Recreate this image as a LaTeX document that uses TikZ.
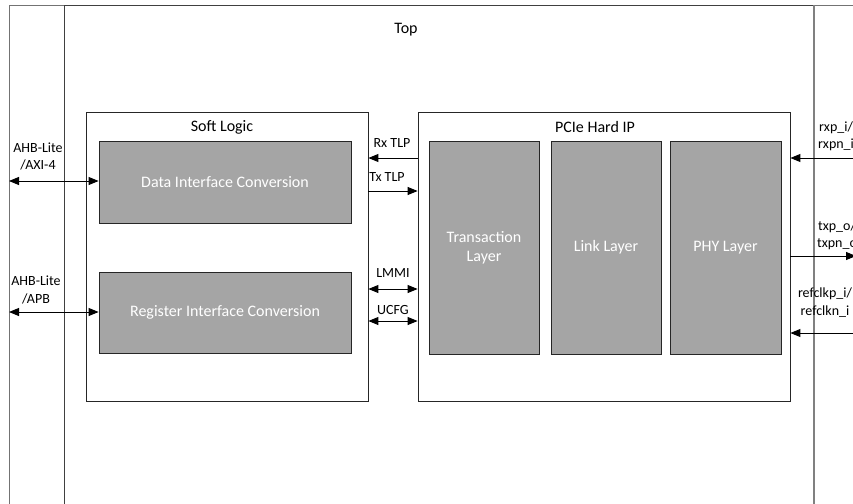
\documentclass[tikz,border=0pt]{standalone}
\usepackage{fontspec}
\setmainfont{Carlito}
\usetikzlibrary{arrows.meta}

\definecolor{blockgray}{HTML}{A5A5A5}
\definecolor{edge}{HTML}{262626}

\begin{document}
\begin{tikzpicture}[x=1pt,y=-1pt,
  bigtext/.style={font=\fontsize{16}{19}\selectfont},
  smalltext/.style={font=\fontsize{14}{17.5}\selectfont, align=center, inner sep=0pt},
  container/.style={draw=edge, line width=0.8pt, inner sep=0pt},
  block/.style={draw=edge, fill=blockgray, line width=0.8pt, inner sep=0pt,
                text=white, align=center, font=\fontsize{16}{20}\selectfont},
  link/.style={line width=0.9pt, black},
  tip/.tip={Triangle[length=10pt,width=8pt]},
  oneway/.style={link, -tip},
  twoway/.style={link, tip-tip},
]
\useasboundingbox (0,0) rectangle (853,503);
\clip (0,0) rectangle (853,503);

% outer frame and the Top module frame (both run past the page edges)
\draw[black!55, line width=0.9pt] (9,515) -- (9,5) -- (870,5);
\draw[black!75, line width=0.9pt] (64,515) -- (64,5) -- (814,5);
\draw[black!50, line width=1.4pt] (814,5) -- (814,515);
\node[bigtext] (toplbl) at (406,30) {Top};

% Soft Logic container
\node[container, minimum width=282pt, minimum height=289pt] (soft) at (227,256.5) {};
\node[bigtext] (softlbl) at (222,127) {Soft Logic};
\node[block, minimum width=252pt, minimum height=82pt] (data) at (225,182) {Data Interface Conversion};
\node[block, minimum width=252pt, minimum height=81pt] (reg) at (225,312.5) {Register Interface Conversion};

% PCIe Hard IP container
\node[container, minimum width=372pt, minimum height=289pt] (pcie) at (604,256.5) {};
\node[bigtext] (pcielbl) at (595,127) {PCIe Hard IP};
\node[block, minimum width=110pt, minimum height=213pt] (trans) at (484,247.5) {Transaction\\[-1pt]Layer};
\node[block, minimum width=110pt, minimum height=213pt] (linkl) at (606,247.5) {Link Layer};
\node[block, minimum width=111pt, minimum height=213pt] (phy) at (725.5,247.5) {PHY Layer};

% host-side buses
\coordinate (hostA) at (9,181);
\coordinate (hostB) at (9,312);
\draw[twoway] (hostA) -- (data.west |- hostA);
\draw[twoway] (hostB) -- (reg.west |- hostB);
\node[smalltext] (axilbl) at (38,156.5) {AHB-Lite\\/AXI-4};
\node[smalltext] (apblbl) at (36,290) {AHB-Lite\\/APB};

% soft logic <-> hard IP interfaces
\draw[oneway] (pcie.west |- 0,158) -- (soft.east |- 0,158);
\draw[oneway] (soft.east |- 0,191) -- (pcie.west |- 0,191);
\draw[twoway] (soft.east |- 0,289) -- (pcie.west |- 0,289);
\draw[twoway] (soft.east |- 0,321) -- (pcie.west |- 0,321);
\node[smalltext] (rxlbl) at (392,143) {Rx TLP};
\node[smalltext] (txlbl) at (387,177) {Tx TLP};
\node[smalltext] (lmmilbl) at (393,273) {LMMI};
\node[smalltext] (ucfglbl) at (393,310) {UCFG};

% serial lanes and reference clock
\coordinate (rxpin) at (860,158);
\coordinate (txpin) at (856,256);
\coordinate (clkpin) at (860,333);
\draw[oneway] (rxpin) -- (pcie.east |- rxpin);
\draw[oneway] (pcie.east |- txpin) -- (txpin);
\draw[oneway] (clkpin) -- (pcie.east |- clkpin);
\node[smalltext] (rxplbl) at (836,136.5) {rxp\_i/\\rxpn\_i};
\node[smalltext] (txplbl) at (837,235.5) {txp\_o/\\txpn\_o};
\node[smalltext] (clklbl) at (825,302.5) {refclkp\_i/\\refclkn\_i};
\end{tikzpicture}
\end{document}
